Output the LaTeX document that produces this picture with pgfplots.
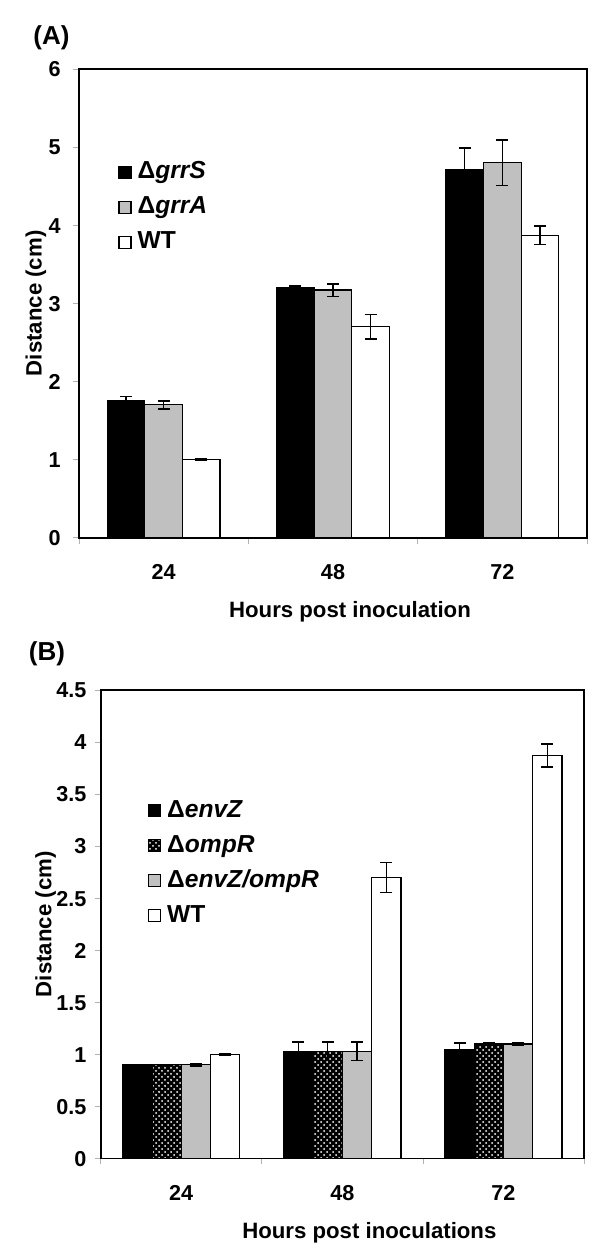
\documentclass[border=0pt]{standalone}
\usepackage{pgfplots}
\pgfplotsset{compat=1.18}
\usepackage{pgfplotstable}
\usepackage{fontspec}
\setmainfont{Liberation Sans}
\usetikzlibrary{patterns}
\definecolor{barGray}{RGB}{192,192,192}
\pgfplotsset{sqlegend/.style={legend image code/.code={\draw[##1,line width=0.6pt] (0pt,-3pt) rectangle (6pt,3pt);}}}

\pgfplotstableread{
x y e
0 1.75 0.06
1 3.20 0.02
2 4.71 0.28
}\Agrrs
\pgfplotstableread{
x y e
0 1.70 0.05
1 3.17 0.08
2 4.80 0.29
}\Agrra
\pgfplotstableread{
x y e
0 1.00 0.01
1 2.70 0.155
2 3.87 0.12
}\Awt

\pgfplotstableread{
x y e
0 0.90 0.0
1 1.03 0.09
2 1.05 0.06
}\Benvz
\pgfplotstableread{
x y e
0 0.90 0.0
1 1.03 0.09
2 1.10 0.01
}\Bompr
\pgfplotstableread{
x y e
0 0.90 0.01
1 1.03 0.09
2 1.10 0.01
}\Bboth
\pgfplotstableread{
x y e
0 1.00 0.01
1 2.70 0.145
2 3.87 0.11
}\Bwt

\pgfplotsset{
  common/.style={
    anchor=south west, scale only axis,
    ybar=0pt,
    xmin=-0.5, xmax=2.5, ymin=0,
    xtick={-0.5,0.5,1.5,2.5}, xticklabels={},
    extra x ticks={0,1,2}, extra x tick labels={24,48,72},
    extra x tick style={major tick length=0pt},
    tick align=outside, major tick length=3pt,
    xtick pos=bottom, ytick pos=left,
    tick style={draw=gray!60, line width=0.4pt},
    axis line style={line width=0.9pt},
    /pgf/number format/assume math mode=true,
    ticklabel style={font=\bfseries\fontsize{10.8}{12}\selectfont, inner sep=0pt, text height=7.8pt, text depth=0pt},
    xticklabel style={anchor=center, yshift=-17pt},
    label style={font=\bfseries\fontsize{11.1}{13}\selectfont, inner sep=0pt},
    xlabel style={at={(axis description cs:0.5,0)}, anchor=center},
    legend style={draw=none, fill=none, inner sep=0pt, row sep=6pt, column sep=3pt,
      font=\bfseries\fontsize{12.3}{14}\selectfont, legend cell align=left,
      nodes={inner sep=0pt, text height=9pt, text depth=2.5pt, font=\bfseries\fontsize{12.3}{14}\selectfont}},
    every axis plot post/.append style={sqlegend},
    errs/.style={error bars/.cd, y dir=both, y explicit,
      error bar style={line width=0.75pt, black},
      error mark options={rotate=90, mark size=3pt, line width=0.75pt, black}},
  }
}

\begin{document}
\begin{tikzpicture}[font=\bfseries]
\path[use as bounding box] (0,0) rectangle (300pt,625.5pt);

\begin{axis}[common,
  at={(39.5pt,356.65pt)},
  width=254pt, height=234.35pt,
  bar width=18.8pt,
  ymax=6, ytick={0,1,2,3,4,5,6},
  yticklabel style={anchor=east, xshift=-6pt},
  xlabel={Hours post inoculation},
  xlabel style={yshift=-37pt, xshift=8.5pt},
  ylabel={Distance (cm)},
  ylabel style={at={(axis description cs:-0.085,0.5)}, anchor=center},
  legend style={at={(0.0768,0.805)}, anchor=north west},
]
\addplot[fill=black, draw=black, line width=0.6pt, errs] table[x=x,y=y,y error=e]{\Agrrs};
\addplot[fill=barGray, draw=black, line width=0.6pt, errs] table[x=x,y=y,y error=e]{\Agrra};
\addplot[fill=white, draw=black, line width=0.6pt, errs] table[x=x,y=y,y error=e]{\Awt};
\legend{Δ\textit{grrS}, Δ\textit{grrA}, WT}
\end{axis}
\node[font=\bfseries\fontsize{13}{15}\selectfont] at (25.75pt,606.75pt) {(A)};

\begin{axis}[common,
  at={(50.35pt,46.25pt)},
  width=241.65pt, height=234.25pt,
  bar width=14.64pt,
  ymax=4.5, ytick={0,0.5,1,1.5,2,2.5,3,3.5,4,4.5},
  yticklabel style={anchor=east, xshift=-4pt},
  xlabel={Hours post inoculations},
  xlabel style={yshift=-37pt, xshift=13.5pt},
  ylabel={Distance (cm)},
  ylabel style={at={(axis description cs:-0.114,0.5)}, anchor=center},
  legend style={at={(0.097,0.768)}, anchor=north west},
]
\addplot[fill=black, draw=black, line width=0.6pt, errs] table[x=x,y=y,y error=e]{\Benvz};
\addplot[fill=black, draw=black, line width=0.6pt, postaction={pattern=crosshatch dots, pattern color=white}, errs] table[x=x,y=y,y error=e]{\Bompr};
\addplot[fill=barGray, draw=black, line width=0.6pt, errs] table[x=x,y=y,y error=e]{\Bboth};
\addplot[fill=white, draw=black, line width=0.6pt, errs] table[x=x,y=y,y error=e]{\Bwt};
\legend{Δ\textit{envZ}, Δ\textit{ompR}, Δ\textit{envZ/ompR}, WT}
\end{axis}
\node[font=\bfseries\fontsize{13}{15}\selectfont] at (23.5pt,298.5pt) {(B)};
\end{tikzpicture}
\end{document}
